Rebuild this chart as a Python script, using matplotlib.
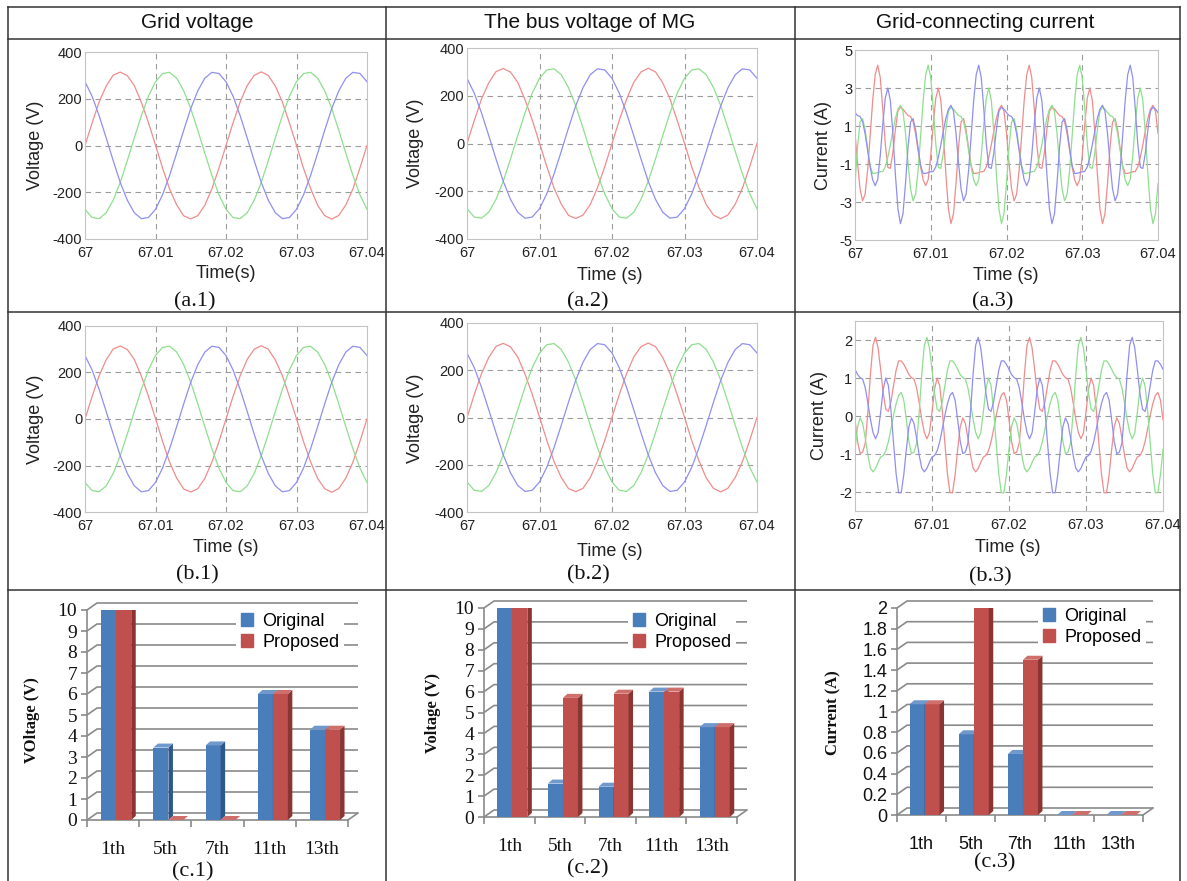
import numpy as np
import matplotlib
matplotlib.use("Agg")
import matplotlib.pyplot as plt
from matplotlib.patches import Polygon, Patch

# ---- data ----
# voltage waveforms, 1 ms steps from 67.000 s to 67.040 s
V_RED = [0, 96, 186, 254, 301, 314, 299, 256, 184, 98, 2, -96, -186, -254, -301, -314, -300, -255, -185, -97,
         0, 97, 185, 256, 300, 315, 300, 254, 186, 96, 1, -98, -184, -256, -300, -315, -299, -254, -186, -96, 0]
V_GREEN = [-273, -308, -313, -288, -234, -158, -65, 33, 128, 211, 273, 308, 313, 288, 234, 158, 65, -33, -128, -211,
           -273, -308, -313, -288, -234, -158, -65, 33, 128, 211, 273, 308, 313, 288, 234, 158, 65, -33, -128, -211, -273]
V_BLUE = [273, 211, 128, 33, -65, -158, -234, -288, -313, -308, -273, -211, -128, -33, 65, 158, 234, 288, 313, 308,
          273, 211, 128, 33, -65, -158, -234, -288, -313, -308, -273, -211, -128, -33, 65, 158, 234, 288, 313, 308, 273]

# grid-connecting current (a.3), 1/3 ms steps from 67.000 s to 67.040 s
A3_RED = [0.62, -0.94, -2.31, -2.94, -2.59, -1.33, 0.48, 2.33, 3.70, 4.2, 3.55, 1.91, 0.04, -1.18, -1.23, -0.40, 0.82, 1.78, 1.99, 1.89,
          1.71, 1.55, 1.50, 1.23, 0.59, -0.28, -1.16, -1.83, -2.14, -1.81, -0.56, 1.09, 2.47, 3.0, 2.34, 0.61, -1.55, -3.36, -4.14, -3.62,
          -2.03, -0.12, 1.21, 1.39, 0.80, -0.18, -1.09, -1.50, -1.49, -1.45, -1.41, -1.39, -1.15, -0.65, 0.02, 0.75, 1.41, 1.88, 2.09, 1.78,
          0.62, -0.94, -2.31, -2.94, -2.59, -1.33, 0.48, 2.33, 3.70, 4.2, 3.55, 1.91, 0.04, -1.18, -1.23, -0.40, 0.82, 1.78, 1.99, 1.89,
          1.71, 1.55, 1.50, 1.23, 0.59, -0.28, -1.16, -1.83, -2.14, -1.81, -0.56, 1.09, 2.47, 3.0, 2.34, 0.61, -1.55, -3.36, -4.14, -3.62,
          -2.03, -0.12, 1.21, 1.39, 0.80, -0.18, -1.09, -1.50, -1.49, -1.45, -1.41, -1.39, -1.15, -0.65, 0.02, 0.75, 1.41, 1.88, 2.09, 1.78,
          0.62]
A3_GREEN = [-2.03, -0.12, 1.21, 1.39, 0.80, -0.18, -1.09, -1.50, -1.49, -1.45, -1.41, -1.39, -1.15, -0.65, 0.02, 0.75, 1.41, 1.88, 2.09, 1.78,
            0.62, -0.94, -2.31, -2.94, -2.59, -1.33, 0.48, 2.33, 3.70, 4.2, 3.55, 1.91, 0.04, -1.18, -1.23, -0.40, 0.82, 1.78, 1.99, 1.89,
            1.71, 1.55, 1.50, 1.23, 0.59, -0.28, -1.16, -1.83, -2.14, -1.81, -0.56, 1.09, 2.47, 3.0, 2.34, 0.61, -1.55, -3.36, -4.14, -3.62,
            -2.03, -0.12, 1.21, 1.39, 0.80, -0.18, -1.09, -1.50, -1.49, -1.45, -1.41, -1.39, -1.15, -0.65, 0.02, 0.75, 1.41, 1.88, 2.09, 1.78,
            0.62, -0.94, -2.31, -2.94, -2.59, -1.33, 0.48, 2.33, 3.70, 4.2, 3.55, 1.91, 0.04, -1.18, -1.23, -0.40, 0.82, 1.78, 1.99, 1.89,
            1.71, 1.55, 1.50, 1.23, 0.59, -0.28, -1.16, -1.83, -2.14, -1.81, -0.56, 1.09, 2.47, 3.0, 2.34, 0.61, -1.55, -3.36, -4.14, -3.62,
            -2.03]
A3_BLUE = [1.71, 1.55, 1.50, 1.23, 0.59, -0.28, -1.16, -1.83, -2.14, -1.81, -0.56, 1.09, 2.47, 3.0, 2.34, 0.61, -1.55, -3.36, -4.14, -3.62,
           -2.03, -0.12, 1.21, 1.39, 0.80, -0.18, -1.09, -1.50, -1.49, -1.45, -1.41, -1.39, -1.15, -0.65, 0.02, 0.75, 1.41, 1.88, 2.09, 1.78,
           0.62, -0.94, -2.31, -2.94, -2.59, -1.33, 0.48, 2.33, 3.70, 4.2, 3.55, 1.91, 0.04, -1.18, -1.23, -0.40, 0.82, 1.78, 1.99, 1.89,
           1.71, 1.55, 1.50, 1.23, 0.59, -0.28, -1.16, -1.83, -2.14, -1.81, -0.56, 1.09, 2.47, 3.0, 2.34, 0.61, -1.55, -3.36, -4.14, -3.62,
           -2.03, -0.12, 1.21, 1.39, 0.80, -0.18, -1.09, -1.50, -1.49, -1.45, -1.41, -1.39, -1.15, -0.65, 0.02, 0.75, 1.41, 1.88, 2.09, 1.78,
           0.62, -0.94, -2.31, -2.94, -2.59, -1.33, 0.48, 2.33, 3.70, 4.2, 3.55, 1.91, 0.04, -1.18, -1.23, -0.40, 0.82, 1.78, 1.99, 1.89,
           1.71]

# grid-connecting current (b.3), 1/3 ms steps
B3_RED = [-0.10, -0.67, -0.99, -0.95, -0.71, 0.09, 1.09, 1.86, 2.07, 1.79, 1.22, 0.60, 0.18, 0.12, 0.37, 0.79, 1.20, 1.45, 1.45, 1.36,
          1.23, 1.09, 1.01, 0.97, 0.74, 0.35, -0.08, -0.43, -0.60, -0.44, 0.10, 0.71, 1.0, 0.80, 0.16, -0.70, -1.51, -2.02, -2.02, -1.55,
          -0.88, -0.28, -0.05, -0.20, -0.58, -1.03, -1.37, -1.47, -1.38, -1.22, -1.08, -1.04, -0.92, -0.68, -0.35, 0.01, 0.32, 0.54, 0.62, 0.42,
          -0.10, -0.67, -0.99, -0.95, -0.71, 0.09, 1.09, 1.86, 2.07, 1.79, 1.22, 0.60, 0.18, 0.12, 0.37, 0.79, 1.20, 1.45, 1.45, 1.36,
          1.23, 1.09, 1.01, 0.97, 0.74, 0.35, -0.08, -0.43, -0.60, -0.44, 0.10, 0.71, 1.0, 0.80, 0.16, -0.70, -1.51, -2.02, -2.02, -1.55,
          -0.88, -0.28, -0.05, -0.20, -0.58, -1.03, -1.37, -1.47, -1.38, -1.22, -1.08, -1.04, -0.92, -0.68, -0.35, 0.01, 0.32, 0.54, 0.62, 0.42,
          -0.10]
B3_GREEN = [-0.88, -0.28, -0.05, -0.20, -0.58, -1.03, -1.37, -1.47, -1.38, -1.22, -1.08, -1.04, -0.92, -0.68, -0.35, 0.01, 0.32, 0.54, 0.62, 0.42,
            -0.10, -0.67, -0.99, -0.95, -0.71, 0.09, 1.09, 1.86, 2.07, 1.79, 1.22, 0.60, 0.18, 0.12, 0.37, 0.79, 1.20, 1.45, 1.45, 1.36,
            1.23, 1.09, 1.01, 0.97, 0.74, 0.35, -0.08, -0.43, -0.60, -0.44, 0.10, 0.71, 1.0, 0.80, 0.16, -0.70, -1.51, -2.02, -2.02, -1.55,
            -0.88, -0.28, -0.05, -0.20, -0.58, -1.03, -1.37, -1.47, -1.38, -1.22, -1.08, -1.04, -0.92, -0.68, -0.35, 0.01, 0.32, 0.54, 0.62, 0.42,
            -0.10, -0.67, -0.99, -0.95, -0.71, 0.09, 1.09, 1.86, 2.07, 1.79, 1.22, 0.60, 0.18, 0.12, 0.37, 0.79, 1.20, 1.45, 1.45, 1.36,
            1.23, 1.09, 1.01, 0.97, 0.74, 0.35, -0.08, -0.43, -0.60, -0.44, 0.10, 0.71, 1.0, 0.80, 0.16, -0.70, -1.51, -2.02, -2.02, -1.55,
            -0.88]
B3_BLUE = [1.23, 1.09, 1.01, 0.97, 0.74, 0.35, -0.08, -0.43, -0.60, -0.44, 0.10, 0.71, 1.0, 0.80, 0.16, -0.70, -1.51, -2.02, -2.02, -1.55,
           -0.88, -0.28, -0.05, -0.20, -0.58, -1.03, -1.37, -1.47, -1.38, -1.22, -1.08, -1.04, -0.92, -0.68, -0.35, 0.01, 0.32, 0.54, 0.62, 0.42,
           -0.10, -0.67, -0.99, -0.95, -0.71, 0.09, 1.09, 1.86, 2.07, 1.79, 1.22, 0.60, 0.18, 0.12, 0.37, 0.79, 1.20, 1.45, 1.45, 1.36,
           1.23, 1.09, 1.01, 0.97, 0.74, 0.35, -0.08, -0.43, -0.60, -0.44, 0.10, 0.71, 1.0, 0.80, 0.16, -0.70, -1.51, -2.02, -2.02, -1.55,
           -0.88, -0.28, -0.05, -0.20, -0.58, -1.03, -1.37, -1.47, -1.38, -1.22, -1.08, -1.04, -0.92, -0.68, -0.35, 0.01, 0.32, 0.54, 0.62, 0.42,
           -0.10, -0.67, -0.99, -0.95, -0.71, 0.09, 1.09, 1.86, 2.07, 1.79, 1.22, 0.60, 0.18, 0.12, 0.37, 0.79, 1.20, 1.45, 1.45, 1.36,
           1.23]

# harmonic spectra
HARMONICS = ["1th", "5th", "7th", "11th", "13th"]
C1_ORIG = [10, 3.45, 3.55, 6.0, 4.3]
C1_PROP = [10, 0, 0, 6.0, 4.3]
C2_ORIG = [10, 1.6, 1.45, 6.0, 4.3]
C2_PROP = [10, 5.7, 5.9, 6.0, 4.3]
C3_ORIG = [1.07, 0.78, 0.59, 0, 0]
C3_PROP = [1.07, 2.0, 1.5, 0, 0]

TIME_TICKS = [67, 67.01, 67.02, 67.03, 67.04]
TIME_LABELS = ["67", "67.01", "67.02", "67.03", "67.04"]

# ---- style ----
W, H = 1187, 881
PHASE_C = ["#f08c8c", "#8edf8e", "#8f8ff2"]
BLUE = ("#4a7ebb", "#2f5788", "#6f98cc")
RED = ("#c0504d", "#8a3532", "#d06e6b")
SANS = ["Liberation Sans", "DejaVu Sans"]
SERIF = ["Liberation Serif", "DejaVu Serif"]

fig = plt.figure(figsize=(W / 100, H / 100), dpi=100)
bg = fig.add_axes([0, 0, 1, 1])
bg.set_xlim(0, W)
bg.set_ylim(H, 0)
bg.axis("off")


def px_axes(l, t, r, b):
    return fig.add_axes([l / W, 1 - b / H, (r - l) / W, (b - t) / H])


# table frame
for y in (7, 39, 312, 590):
    bg.plot([8, 1180], [y, y], color="#333333", lw=1.1)
for x in (8, 386, 795, 1180):
    bg.plot([x, x], [7, H], color="#333333", lw=1.1)

for x, s in ((197, "Grid voltage"), (590, "The bus voltage of MG"), (985, "Grid-connecting current")):
    bg.text(x, 23, s, ha="center", va="center", fontsize=15, family=SANS, color="#111111")


def wave_panel(box, t, series, ylim, yticks, grid_y):
    ax = px_axes(*box)
    for y, c in zip(series, PHASE_C):
        ax.plot(t, y, color=c, lw=0.9)
    ax.set_xlim(67, 67.04)
    ax.set_ylim(*ylim)
    ax.set_xticks(TIME_TICKS)
    ax.set_xticklabels(TIME_LABELS)
    ax.set_yticks(yticks)
    ax.set_yticklabels([f"{v:g}" for v in yticks])
    for v in grid_y:
        ax.axhline(v, color="#9c9c9c", lw=0.8, ls=(0, (5, 4)), zorder=0)
    for v in TIME_TICKS[1:-1]:
        ax.axvline(v, color="#9c9c9c", lw=0.8, ls=(0, (5, 4)), zorder=0)
    for sp in ax.spines.values():
        sp.set_color("#c4c4c4")
    ax.tick_params(length=0, pad=2, labelsize=10.5, labelcolor="#222222")
    ax.tick_params(axis="x", pad=5)
    for lab in ax.get_xticklabels() + ax.get_yticklabels():
        lab.set_family(SANS)
    return ax


t_v = 67 + np.arange(len(V_RED)) * 0.001
t_i = 67 + np.arange(len(A3_RED)) / 3000
volts = [V_RED, V_GREEN, V_BLUE]
vt = [-400, -200, 0, 200, 400]

wave_panel((85, 52, 367, 239), t_v, volts, (-400, 400), vt, [-200, 0, 200])
wave_panel((467, 48, 757, 239), t_v, volts, (-400, 400), vt, [-200, 0, 200])
wave_panel((855, 50, 1158, 240), t_i, [A3_RED, A3_GREEN, A3_BLUE], (-5, 5), [-5, -3, -1, 1, 3, 5], [-3, -1, 1, 3])
wave_panel((85, 326, 367, 512), t_v, volts, (-400, 400), vt, [-200, 0, 200])
wave_panel((467, 323, 757, 512), t_v, volts, (-400, 400), vt, [-200, 0, 200])
wave_panel((855, 321, 1163, 511), t_i, [B3_RED, B3_GREEN, B3_BLUE], (-2.5, 2.5), [-2, -1, 0, 1, 2], [-2, -1, 0, 1, 2])

# axis titles and panel tags of the waveform rows
for x, y, s in ((35, 145, "Voltage (V)"), (415, 143, "Voltage (V)"), (823, 145, "Current (A)"),
                (35, 419, "Voltage (V)"), (415, 418, "Voltage (V)"), (820, 416, "Current (A)")):
    bg.text(x, y, s, rotation=90, ha="center", va="center", fontsize=13, family=SANS, color="#222222")
for x, y, s in ((226, 273, "Time(s)"), (610, 275, "Time (s)"), (1006, 275, "Time (s)"),
                (226, 547, "Time (s)"), (610, 551, "Time (s)"), (1008, 547, "Time (s)")):
    bg.text(x, y, s, ha="center", va="center", fontsize=13, family=SANS, color="#222222")
for x, y, s in ((195, 302, "(a.1)"), (588, 302, "(a.2)"), (993, 302, "(a.3)"),
                (197, 575, "(b.1)"), (588, 575, "(b.2)"), (990, 577, "(b.3)"),
                (193, 872, "(c.1)"), (588, 869, "(c.2)"), (995, 863, "(c.3)")):
    bg.text(x, y, s, ha="center", va="center", fontsize=16, family=SERIF, color="#111111")


def bar_panel(box, orig, prop, yticks, ytick_labels, serif, leg_xy):
    l, t, r, b = box
    ax = px_axes(l, t, r, b)
    ymax = yticks[-1]
    ax.set_xlim(-0.5, 4.5)
    ax.set_ylim(0, ymax)
    ppx = 5.0 / (r - l)
    ppy = ymax / (b - t)
    wdx, wdy = 10 * ppx, 7 * ppy
    bdx, bdy = 4.5 * ppx, 4 * ppy
    gc = "#8a8a8a"
    for v in yticks:
        ax.plot([-0.5, -0.5 + wdx, 4.5 + wdx], [v, v + wdy, v + wdy], color=gc, lw=1.2,
                clip_on=False, zorder=1, solid_capstyle="butt")
    ax.plot([4.5, 4.5 + wdx], [0, wdy], color=gc, lw=1.2, clip_on=False, zorder=1)

    x = np.arange(len(HARMONICS))
    bw = 15 * ppx
    for vals, (front, side, top), sgn in ((orig, BLUE, -1), (prop, RED, 1)):
        xc = x + 0.06 + sgn * bw / 2
        ax.bar(xc, vals, bw, color=front, linewidth=0, zorder=3)
        for xi, v in zip(xc, vals):
            x0, x1 = xi - bw / 2, xi + bw / 2
            ax.add_patch(Polygon([(x1, 0), (x1 + bdx, bdy), (x1 + bdx, v + bdy), (x1, v)],
                                 closed=True, color=side, lw=0, zorder=3))
            ax.add_patch(Polygon([(x0, v), (x0 + bdx, v + bdy), (x1 + bdx, v + bdy), (x1, v)],
                                 closed=True, color=top, lw=0, zorder=3))

    for name in ("top", "right"):
        ax.spines[name].set_visible(False)
    for name in ("left", "bottom"):
        ax.spines[name].set_color(gc)
        ax.spines[name].set_linewidth(1.2)
    ax.set_facecolor("none")
    ax.set_yticks(yticks)
    ax.set_yticklabels(ytick_labels)
    ax.set_xticks(x)
    ax.set_xticklabels(HARMONICS)
    ax.set_xticks(np.arange(-0.5, 5, 1.0), minor=True)
    ax.tick_params(axis="x", which="major", length=0, pad=15)
    ax.tick_params(axis="x", which="minor", length=5, color=gc, width=1.2)
    ax.tick_params(axis="y", length=4, color=gc, width=1.2, pad=3)
    fam = SERIF if serif else SANS
    fs = 14 if serif else 13
    for lab in ax.get_xticklabels() + ax.get_yticklabels():
        lab.set_family(fam)
        lab.set_fontsize(fs)
        lab.set_color("#111111")

    handles = [Patch(color=BLUE[0]), Patch(color=RED[0])]
    ax.legend(handles, ["Original", "Proposed"], loc="upper left",
              bbox_to_anchor=(leg_xy[0] / W, 1 - leg_xy[1] / H), bbox_transform=fig.transFigure,
              frameon=True, facecolor="white", edgecolor="none", framealpha=1, fancybox=False,
              prop={"family": SANS, "size": 13}, handlelength=0.7, handleheight=0.7,
              handletextpad=0.5, labelspacing=0.25, borderpad=0.25, borderaxespad=0)
    return ax


bar_panel((87, 610, 348, 820), C1_ORIG, C1_PROP, list(range(11)), [str(v) for v in range(11)], True, (236, 608))
bar_panel((484, 608, 737, 817), C2_ORIG, C2_PROP, list(range(11)), [str(v) for v in range(11)], True, (628, 608))
c3_ticks = [0, 0.2, 0.4, 0.6, 0.8, 1.0, 1.2, 1.4, 1.6, 1.8, 2.0]
bar_panel((897, 608, 1143, 815), C3_ORIG, C3_PROP, c3_ticks, [f"{v:g}" for v in c3_ticks], False, (1038, 603))

for x, y, s in ((32, 720, "VOltage (V)"), (433, 713, "Voltage (V)"), (833, 713, "Current (A)")):
    bg.text(x, y, s, rotation=90, ha="center", va="center", fontsize=12, family=SERIF,
            fontweight="bold", color="#111111")

fig.savefig("out.png", dpi=100)
